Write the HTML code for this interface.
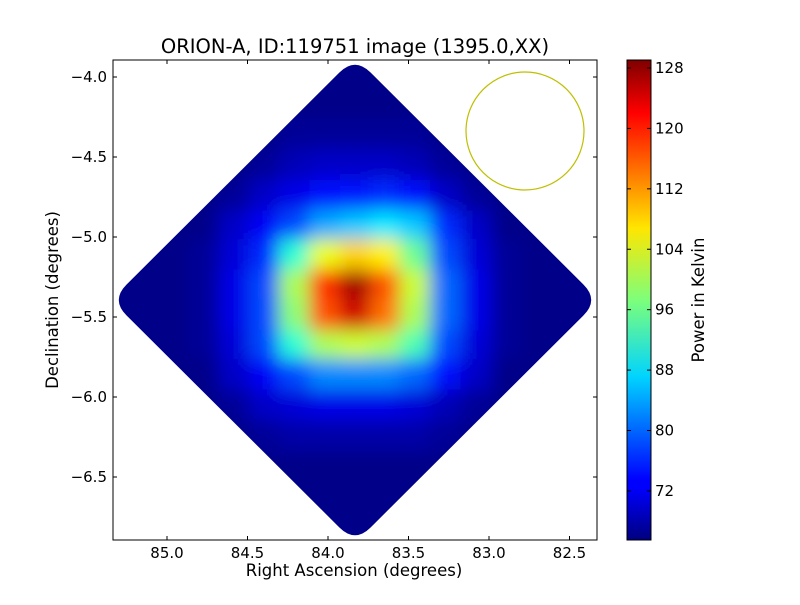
<!DOCTYPE html>
<html><head><meta charset="utf-8"><style>
body{margin:0;background:#fff;}
svg text{font-family:"DejaVu Sans","Liberation Sans",sans-serif;fill:#000;}
</style></head><body>
<svg id="chart" width="800" height="600" xmlns="http://www.w3.org/2000/svg">
<defs>
<filter id="blur" x="-10%" y="-10%" width="120%" height="120%"><feGaussianBlur stdDeviation="9"/></filter>
<clipPath id="diam"><path id="diamPath" d=""/></clipPath>
<clipPath id="plotClip"><rect x="113" y="60" width="484" height="480"/></clipPath>
<linearGradient id="jet" x1="0" y1="1" x2="0" y2="0">
<stop offset="0" stop-color="#00007f"/><stop offset="0.11" stop-color="#0000ff"/>
<stop offset="0.125" stop-color="#0000ff"/><stop offset="0.34" stop-color="#00d4ff"/>
<stop offset="0.5" stop-color="#7dff7a"/><stop offset="0.65" stop-color="#ffe600"/>
<stop offset="0.89" stop-color="#ff0000"/><stop offset="1" stop-color="#7f0000"/>
</linearGradient>
</defs>
<text x="355" y="53" font-size="19.5" text-anchor="middle">ORION-A, ID:119751 image (1395.0,XX)</text>
<g clip-path="url(#plotClip)"><g clip-path="url(#diam)"><g id="cells" filter="url(#blur)"></g></g></g>
<circle cx="525" cy="131" r="59" fill="none" stroke="#bfbf00" stroke-width="1.2"/>
<rect x="113" y="60" width="484" height="480" fill="none" stroke="#000" stroke-width="1"/>
<g id="xticks"></g>
<g id="yticks"></g>
<text x="354" y="576" font-size="16.5" text-anchor="middle">Right Ascension (degrees)</text>
<text transform="translate(58,300) rotate(-90)" font-size="16.5" text-anchor="middle">Declination (degrees)</text>
<rect x="627" y="60" width="24" height="480" fill="url(#jet)" stroke="#000" stroke-width="1"/>
<g id="cticks"></g>
<text transform="translate(704,300) rotate(-90)" font-size="16.5" text-anchor="middle">Power in Kelvin</text>
</svg>
<script>
const xTicks=[85.0,84.5,84.0,83.5,83.0,82.5];
const yTicks=[-4.0,-4.5,-5.0,-5.5,-6.0,-6.5];
const cTicks=[72,80,88,96,104,112,120,128];
const raCenters=[85.33,85.14,84.96,84.77,84.58,84.39,84.21,84.02,83.83,83.64,83.46,83.27,83.08,82.89,82.71,82.52];
const decCenters=[-3.99,-4.18,-4.36,-4.55,-4.74,-4.93,-5.11,-5.30,-5.49,-5.68,-5.86,-6.05,-6.24,-6.43,-6.61,-6.80];
const B=66;
const values=[
[B,B,B,B,B,B,B,B,B,B,B,B,B,B,B,B],
[B,B,B,B,B,B,B,B,B,B,B,B,B,B,B,B],
[B,B,B,B,B,B,67,67,67,67,67,B,B,B,B,B],
[B,B,B,B,B,67,69,70,70,70,69,67,B,B,B,B],
[B,B,B,B,67,70,72,74,75,76,74,70,67,B,B,B],
[B,B,B,B,70,73,78,84,86,88,86,76,70,B,B,B],
[B,B,B,67,71,76,92,104,108,106,96,78,71,67,B,B],
[B,B,B,67,72,78,100,118,127,116,102,80,72,67,B,B],
[B,B,B,67,72,78,98,116,124,114,100,80,72,67,B,B],
[B,B,B,67,71,78,92,100,102,100,94,78,71,67,B,B],
[B,B,B,B,70,73,78,82,82,82,80,74,70,B,B,B],
[B,B,B,B,67,70,71,72,72,72,71,69,67,B,B,B],
[B,B,B,B,B,67,68,68,68,68,68,67,B,B,B,B],
[B,B,B,B,B,B,B,B,B,B,B,B,B,B,B,B],
[B,B,B,B,B,B,B,B,B,B,B,B,B,B,B,B],
[B,B,B,B,B,B,B,B,B,B,B,B,B,B,B,B]];
const vmin=65.5,vmax=129.06;
const X=v=>167+(85.0-v)*161;
const Y=v=>77+(-4.0-v)*160;
const C=v=>540-(v-vmin)/(vmax-vmin)*480;
function jet(t){t=Math.max(0,Math.min(1,t));
 const f=x=>Math.round(255*Math.max(0,Math.min(1,x)));
 const r=f(Math.min(4*t-1.5,-4*t+4.5)),g=f(Math.min(4*t-0.5,-4*t+3.5)),b=f(Math.min(4*t+0.5,-4*t+2.5));
 return `rgb(${r},${g},${b})`;}
const NS="http://www.w3.org/2000/svg";
function mk(tag,attrs,parent){const e=document.createElementNS(NS,tag);for(const k in attrs)e.setAttribute(k,attrs[k]);parent.appendChild(e);return e;}
(function(){const P=[[355,57],[599,300],[355,543],[111,300]];const r=22;let d="";
 for(let i=0;i<4;i++){const p=P[i],a=P[(i+3)%4],b=P[(i+1)%4];
  const la=Math.hypot(a[0]-p[0],a[1]-p[1]),lb=Math.hypot(b[0]-p[0],b[1]-p[1]);
  const s=[p[0]+(a[0]-p[0])*r/la,p[1]+(a[1]-p[1])*r/la],e=[p[0]+(b[0]-p[0])*r/lb,p[1]+(b[1]-p[1])*r/lb];
  d+=(i?"L":"M")+s[0]+","+s[1]+"Q"+p[0]+","+p[1]+" "+e[0]+","+e[1];}
 document.getElementById('diamPath').setAttribute('d',d+"Z");})();
const cells=document.getElementById('cells');
const bg=mk('rect',{x:60,y:20,width:600,height:560,fill:jet((B-vmin)/(vmax-vmin))},cells);


const dx=161*0.1875,dy=160*0.1875;
values.forEach((row,ri)=>row.forEach((v,ci)=>{
 const cx=X(raCenters[ci]),cy=Y(decCenters[ri]);
 const r=mk('rect',{x:cx-dx/2-0.5,y:cy-dy/2-0.5,width:dx+1,height:dy+1,fill:jet((v-vmin)/(vmax-vmin))},cells);
 
 
}));
const xg=document.getElementById('xticks');
xTicks.forEach(t=>{const x=X(t);
 mk('line',{x1:x,x2:x,y1:540,y2:536,stroke:'#000'},xg);mk('line',{x1:x,x2:x,y1:60,y2:64,stroke:'#000'},xg);
 const tx=mk('text',{x:x,y:558,'font-size':15,'text-anchor':'middle'},xg);tx.textContent=t.toFixed(1);
 
 });
const yg=document.getElementById('yticks');
yTicks.forEach(t=>{const y=Y(t);
 mk('line',{x1:113,x2:117,y1:y,y2:y,stroke:'#000'},yg);mk('line',{x1:597,x2:593,y1:y,y2:y,stroke:'#000'},yg);
 const tx=mk('text',{x:107,y:y+5,'font-size':15,'text-anchor':'end'},yg);tx.textContent='\u2212'+Math.abs(t).toFixed(1);
 
 });
const cg=document.getElementById('cticks');
cTicks.forEach(t=>{const y=C(t);
 mk('line',{x1:627,x2:631,y1:y,y2:y,stroke:'#000'},cg);mk('line',{x1:651,x2:647,y1:y,y2:y,stroke:'#000'},cg);
 const tx=mk('text',{x:655,y:y+5,'font-size':15},cg);tx.textContent=t;
 
 });
</script>
</body></html>
